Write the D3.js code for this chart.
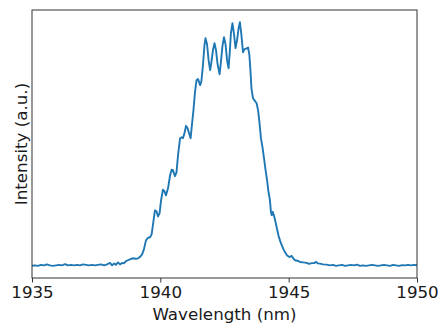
<!DOCTYPE html>
<html>
<head>
<meta charset="utf-8">
<script src="https://cdn.jsdelivr.net/npm/d3@7"></script>
<style>
  body { margin: 0; background: #fff; }
  svg { display: block; }
  svg text { font-family: "DejaVu Sans", "Bitstream Vera Sans", sans-serif !important; font-size: 16.7px !important; }
</style>
</head>
<body>
<div id="chart"></div>
<script>
// spectrum (wavelength in nm, intensity normalised to peak)
const wavelength = [
  1935.00, 1935.12, 1935.23, 1935.35, 1935.47, 1935.58, 1935.70, 1935.82, 1935.94, 1936.05,
  1936.17, 1936.29, 1936.40, 1936.52, 1936.64, 1936.75, 1936.87, 1936.99, 1937.10, 1937.22,
  1937.34, 1937.46, 1937.57, 1937.69, 1937.81, 1937.92, 1938.04, 1938.12, 1938.20, 1938.27,
  1938.35, 1938.43, 1938.51, 1938.58, 1938.66, 1938.74, 1938.86, 1938.97, 1939.05, 1939.13,
  1939.21, 1939.29, 1939.36, 1939.44, 1939.52, 1939.60, 1939.66, 1939.71, 1939.79, 1939.85,
  1939.91, 1939.97, 1940.03, 1940.10, 1940.16, 1940.22, 1940.30, 1940.38, 1940.44, 1940.49,
  1940.57, 1940.63, 1940.69, 1940.77, 1940.83, 1940.88, 1940.94, 1941.00, 1941.06, 1941.12,
  1941.18, 1941.23, 1941.29, 1941.35, 1941.41, 1941.47, 1941.55, 1941.60, 1941.66, 1941.72,
  1941.76, 1941.82, 1941.88, 1941.94, 1941.99, 1942.05, 1942.11, 1942.17, 1942.23, 1942.31,
  1942.36, 1942.42, 1942.48, 1942.54, 1942.60, 1942.66, 1942.71, 1942.75, 1942.81, 1942.87,
  1942.93, 1942.99, 1943.05, 1943.10, 1943.16, 1943.22, 1943.28, 1943.34, 1943.42, 1943.47,
  1943.51, 1943.55, 1943.61, 1943.69, 1943.75, 1943.81, 1943.86, 1943.92, 1943.98, 1944.04,
  1944.10, 1944.16, 1944.21, 1944.27, 1944.31, 1944.34, 1944.38, 1944.44, 1944.49, 1944.55,
  1944.60, 1944.66, 1944.73, 1944.80, 1944.86, 1944.94, 1945.03, 1945.12, 1945.19, 1945.25,
  1945.34, 1945.44, 1945.56, 1945.70, 1945.79, 1945.91, 1945.99, 1946.07, 1946.14, 1946.22,
  1946.34, 1946.48, 1946.61, 1946.73, 1946.84, 1946.96, 1947.08, 1947.20, 1947.31, 1947.43,
  1947.55, 1947.66, 1947.78, 1947.90, 1948.01, 1948.13, 1948.25, 1948.36, 1948.48, 1948.60,
  1948.71, 1948.83, 1948.95, 1949.07, 1949.18, 1949.30, 1949.42, 1949.53, 1949.65, 1949.77,
  1949.88, 1950.00
];
const intensity = [
  -0.002, 0.000, -0.002, 0.002, 0.000, 0.004, 0.000, -0.002, 0.000, 0.002,
  0.000, 0.005, 0.000, 0.002, 0.000, 0.002, 0.000, 0.004, 0.002, 0.000,
  0.002, 0.000, 0.002, 0.004, 0.000, 0.004, 0.010, 0.000, 0.008, 0.002,
  0.012, 0.004, 0.010, 0.008, 0.017, 0.021, 0.027, 0.029, 0.027, 0.029,
  0.035, 0.045, 0.066, 0.103, 0.114, 0.116, 0.128, 0.165, 0.227, 0.223,
  0.202, 0.215, 0.269, 0.312, 0.306, 0.289, 0.318, 0.372, 0.395, 0.393,
  0.368, 0.384, 0.455, 0.525, 0.529, 0.525, 0.545, 0.576, 0.566, 0.545,
  0.525, 0.579, 0.640, 0.715, 0.764, 0.769, 0.744, 0.760, 0.826, 0.909,
  0.938, 0.913, 0.847, 0.806, 0.839, 0.888, 0.917, 0.888, 0.831, 0.789,
  0.839, 0.905, 0.942, 0.913, 0.847, 0.814, 0.888, 0.959, 1.000, 0.955,
  0.897, 0.930, 0.979, 1.004, 0.950, 0.880, 0.893, 0.895, 0.899, 0.868,
  0.806, 0.731, 0.690, 0.678, 0.669, 0.640, 0.591, 0.525, 0.488, 0.442,
  0.393, 0.351, 0.306, 0.269, 0.219, 0.207, 0.221, 0.200, 0.178, 0.149,
  0.124, 0.103, 0.083, 0.066, 0.054, 0.041, 0.034, 0.039, 0.027, 0.021,
  0.019, 0.014, 0.012, 0.010, 0.006, 0.009, 0.009, 0.014, 0.008, 0.007,
  0.004, 0.003, 0.000, 0.002, -0.002, 0.000, 0.002, -0.002, 0.000, 0.002,
  0.000, 0.003, -0.002, 0.000, -0.002, 0.000, 0.002, 0.000, -0.002, 0.000,
  0.002, 0.000, -0.002, 0.002, 0.000, -0.002, 0.001, 0.000, 0.002, 0.000,
  0.002, 0.000
];
const xTicks = [1935, 1940, 1945, 1950];

const width = 439, height = 324;
const margin = { top: 10, right: 22, bottom: 46, left: 32 };

const data = wavelength.map((w, i) => ({ w, v: intensity[i] }));

const svg = d3.select("#chart").append("svg")
  .attr("width", width)
  .attr("height", height);

const x = d3.scaleLinear()
  .domain([1935, 1950])
  .range([margin.left, width - margin.right]);

// matplotlib-style 5% padding on y
const [ymin, ymax] = d3.extent(intensity);
const pad = (ymax - ymin) * 0.05;
const y = d3.scaleLinear()
  .domain([ymin - pad, ymax + pad])
  .range([height - margin.bottom, margin.top]);

svg.append("clipPath").attr("id", "clip")
  .append("rect")
  .attr("x", margin.left).attr("y", margin.top)
  .attr("width", width - margin.left - margin.right)
  .attr("height", height - margin.top - margin.bottom);

const line = d3.line()
  .x(d => x(d.w))
  .y(d => y(d.v));

svg.append("path")
  .datum(data)
  .attr("clip-path", "url(#clip)")
  .attr("fill", "none")
  .attr("stroke", "#1f77b4")
  .attr("stroke-width", 1.9)
  .attr("stroke-linejoin", "round")
  .attr("d", line);

// x axis
const xAxis = svg.append("g")
  .attr("transform", `translate(0,${height - margin.bottom})`)
  .call(d3.axisBottom(x).tickValues(xTicks).tickFormat(d3.format("d")).tickSize(4.5).tickPadding(4));
xAxis.select(".domain").remove();
xAxis.selectAll(".tick line").attr("stroke", "#333").attr("stroke-width", 1);
xAxis.selectAll(".tick text").attr("fill", "#1a1a1a");

// frame
svg.append("rect")
  .attr("x", margin.left).attr("y", margin.top)
  .attr("width", width - margin.left - margin.right)
  .attr("height", height - margin.top - margin.bottom)
  .attr("fill", "none")
  .attr("stroke", "#333")
  .attr("stroke-width", 1);

svg.append("text")
  .attr("x", (margin.left + width - margin.right) / 2)
  .attr("y", 320)
  .attr("text-anchor", "middle")
  .attr("fill", "#1a1a1a")
  .text("Wavelength (nm)");

svg.append("text")
  .attr("transform", `translate(26.5,${(margin.top + height - margin.bottom) / 2}) rotate(-90)`)
  .attr("text-anchor", "middle")
  .attr("fill", "#1a1a1a")
  .text("Intensity (a.u.)");
</script>
</body>
</html>
